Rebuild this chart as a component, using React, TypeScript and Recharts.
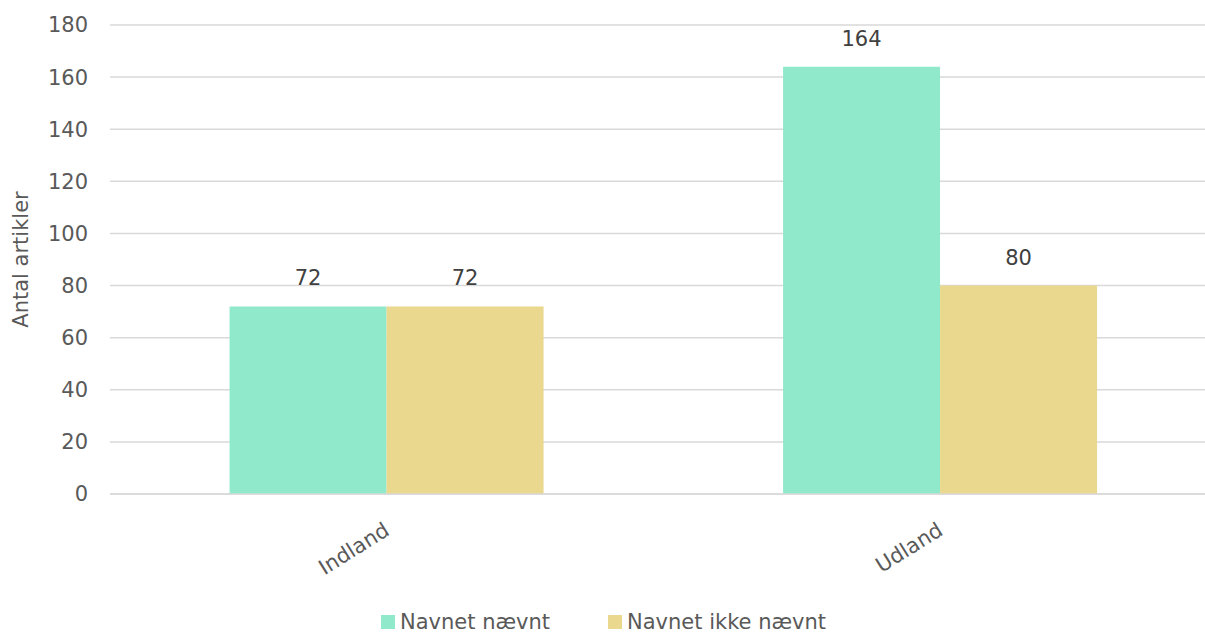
import { Bar, BarChart, CartesianGrid, LabelList, Legend, XAxis, YAxis } from "recharts";

const categories = ["Indland", "Udland"];
const navnetNaevnt = [72, 164];
const navnetIkkeNaevnt = [72, 80];
const yTicks = [0, 20, 40, 60, 80, 100, 120, 140, 160, 180];

const SERIES = [
  { key: "naevnt", name: "Navnet nævnt", color: "#90E9CB" },
  { key: "ikke", name: "Navnet ikke nævnt", color: "#EAD88E" },
];

const FONT = "'DejaVu Sans', sans-serif";
const AXIS_TEXT = "#595959";
const FS = 21;

const chartData = categories.map((c, i) => ({
  category: c,
  naevnt: navnetNaevnt[i],
  ikke: navnetIkkeNaevnt[i],
}));

function RotatedTick(props: any) {
  const { x, y, payload } = props;
  return (
    <g transform={`translate(${x + 4},${y + 32}) rotate(-32)`}>
      <text x={0} y={0} textAnchor="end" fill={AXIS_TEXT} fontSize={FS} fontFamily={FONT}>
        {payload.value}
      </text>
    </g>
  );
}

function LegendContent() {
  return (
    <div
      style={{
        display: "flex",
        paddingLeft: 381,
        gap: 58,
        fontFamily: FONT,
        fontSize: FS,
        lineHeight: "26px",
        height: 26,
        color: AXIS_TEXT,
      }}
    >
      {SERIES.map((s) => (
        <div key={s.key} style={{ display: "flex", alignItems: "center" }}>
          <span
            style={{
              display: "inline-block",
              width: 14,
              height: 14,
              background: s.color,
              marginRight: 5,
            }}
          />
          <span>{s.name}</span>
        </div>
      ))}
    </div>
  );
}

export default function App() {
  return (
    <div style={{ width: 1205, height: 635, background: "#fff", overflow: "hidden" }}>
      <style>{`body{margin:0}`}</style>
      <BarChart
        width={1205}
        height={635}
        data={chartData}
        margin={{ top: 25, right: -12, left: 0, bottom: 55 }}
        barCategoryGap="21.6%"
        barGap={0}
      >
        <CartesianGrid vertical={false} stroke="#D9D9D9" strokeWidth={1.5} />
        <XAxis
          dataKey="category"
          axisLine={{ stroke: "#D9D9D9", strokeWidth: 1.5 }}
          tickLine={false}
          tick={<RotatedTick />}
          interval={0}
          height={60}
        />
        <YAxis
          domain={[0, 180]}
          ticks={yTicks}
          axisLine={false}
          tickLine={false}
          tickSize={0}
          tickMargin={22}
          width={110}
          tick={{ fill: AXIS_TEXT, fontSize: FS, fontFamily: FONT }}
          label={{
            value: "Antal artikler",
            angle: -90,
            position: "insideLeft",
            offset: 21,
            style: { fill: AXIS_TEXT, fontSize: FS, fontFamily: FONT, textAnchor: "middle" },
          }}
        />
        <Legend
          verticalAlign="bottom"
          content={<LegendContent />}
          wrapperStyle={{ left: 0, width: 1205, bottom: 0 }}
        />
        {SERIES.map((s) => (
          <Bar key={s.key} dataKey={s.key} name={s.name} fill={s.color} isAnimationActive={false}>
            <LabelList
              dataKey={s.key}
              position="top"
              offset={21}
              fill="#404040"
              fontSize={FS}
              fontFamily={FONT}
            />
          </Bar>
        ))}
      </BarChart>
    </div>
  );
}
